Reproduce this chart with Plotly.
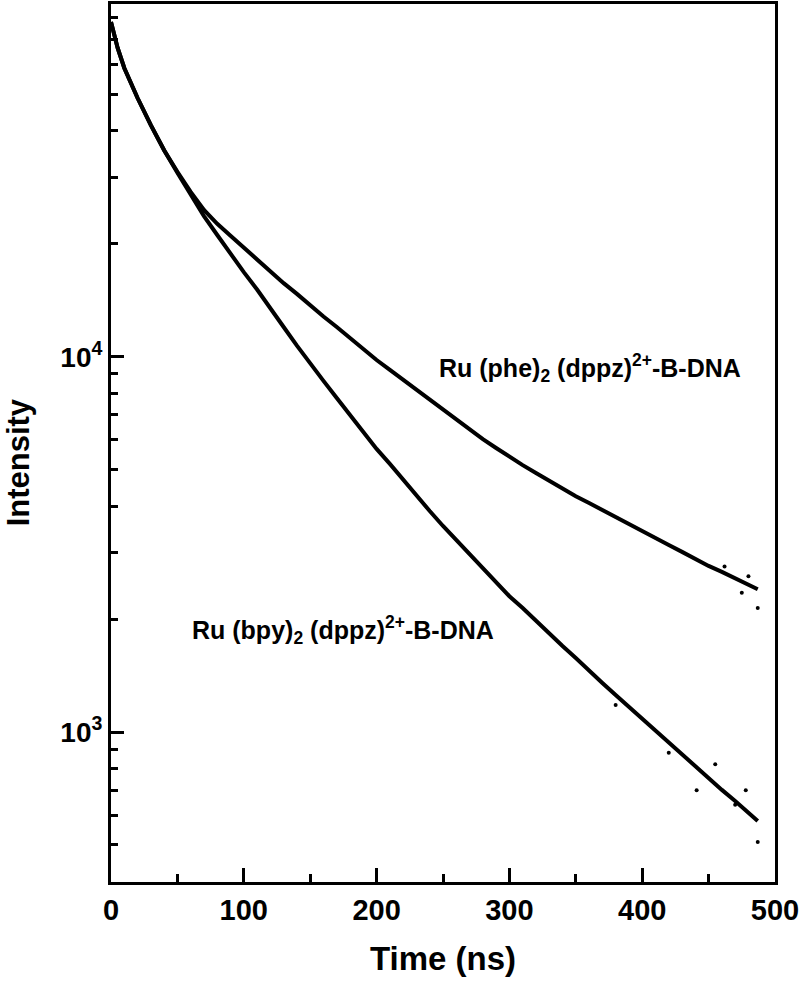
import plotly.graph_objects as go

# Time axis (ns)
time_ns = [0, 5, 10, 20, 30, 40, 50, 60, 70, 80, 90, 100, 110, 120, 130, 140, 150,
           160, 170, 180, 190, 200, 210, 220, 230, 240, 250, 260, 270, 280, 290,
           300, 310, 320, 330, 340, 350, 360, 370, 380, 390, 400, 410, 420, 430,
           440, 450, 460, 470, 480, 487]

# Ru(phe)2(dppz)2+ - B-DNA intensity
phe_intensity = [78000, 66500, 58800, 48900, 41400, 35500, 31100, 27500, 24600, 22600, 21000,
                 19500, 18200, 16900, 15700, 14700, 13700, 12800, 12000, 11200, 10500,
                 9800, 9220, 8670, 8150, 7670, 7210, 6780, 6380, 6030, 5710,
                 5400, 5140, 4900, 4670, 4440, 4250, 4075, 3900, 3740, 3580,
                 3430, 3290, 3150, 3020, 2890, 2770, 2670, 2570, 2480, 2400]

# Ru(bpy)2(dppz)2+ - B-DNA intensity
bpy_intensity = [78000, 66500, 58800, 48900, 41400, 35500, 30900, 27000, 23700, 21100, 18800,
                 16800, 15100, 13400, 12000, 10700, 9560, 8620, 7760, 7000, 6300,
                 5680, 5180, 4690, 4280, 3880, 3540, 3250, 2980, 2735, 2510,
                 2300, 2140, 1976, 1836, 1695, 1575, 1454, 1351, 1255, 1166,
                 1083, 1006, 935, 868, 812, 754, 701, 655, 608, 579]

# scattered stray points near the tails
phe_out_t = [462, 475, 480, 487]
phe_out_v = [2760, 2350, 2600, 2140]
bpy_out_t = [380, 420, 441, 455, 470, 478, 487]
bpy_out_v = [1180, 880, 700, 820, 640, 700, 509]

x_ticks = [0, 100, 200, 300, 400, 500]
y_ticks = [1000, 10000]
y_ticktext = ["10<sup>3</sup>", "10<sup>4</sup>"]
y_minor = [500, 600, 700, 800, 900, 2000, 3000, 4000, 5000, 6000, 7000, 8000, 9000,
           20000, 30000, 40000, 50000, 60000, 70000, 80000]
x_minor = [50, 150, 250, 350, 450]

label_phe = "Ru (phe)<sub>2</sub> (dppz)<sup>2+</sup>-B-DNA"
label_bpy = "Ru (bpy)<sub>2</sub> (dppz)<sup>2+</sup>-B-DNA"

FONT = "Liberation Sans, Arial, sans-serif"

fig = go.Figure()
for t, v in [(time_ns, phe_intensity), (time_ns, bpy_intensity)]:
    fig.add_trace(go.Scatter(x=t, y=v, mode="lines", line=dict(color="black", width=4),
                             showlegend=False))
for t, v in [(phe_out_t, phe_out_v), (bpy_out_t, bpy_out_v)]:
    fig.add_trace(go.Scatter(x=t, y=v, mode="markers", marker=dict(color="black", size=4),
                             showlegend=False))

fig.add_annotation(x=245.5, y=3.97, xref="x", yref="y", text=label_phe, showarrow=False,
                   xanchor="left", yanchor="middle",
                   font=dict(family=FONT, size=25, color="black", weight="bold"))
fig.add_annotation(x=59.5, y=3.272, xref="x", yref="y", text=label_bpy, showarrow=False,
                   xanchor="left", yanchor="middle",
                   font=dict(family=FONT, size=25, color="black", weight="bold"))
fig.add_annotation(x=0.5, y=-0.0866, xref="paper", yref="paper", text="Time (ns)",
                   showarrow=False, xanchor="center", yanchor="middle",
                   font=dict(family=FONT, size=33, color="black", weight="bold"))
fig.add_annotation(x=-0.14, y=0.478, xref="paper", yref="paper", text="Intensity",
                   showarrow=False, xanchor="center", yanchor="middle", textangle=-90,
                   font=dict(family=FONT, size=31, color="black", weight="bold"))

fig.update_layout(
    width=800, height=985,
    margin=dict(l=111, r=25, t=4, b=103),
    paper_bgcolor="white", plot_bgcolor="white",
    xaxis=dict(range=[0, 500], tickmode="array", tickvals=x_ticks,
               ticks="inside", ticklen=14, tickwidth=2.5, tickcolor="black",
               showline=True, linewidth=3, linecolor="black", mirror=True,
               showgrid=False, zeroline=False, automargin=False,
               ticklabeloverflow="allow",
               tickfont=dict(family=FONT, size=29, color="black", weight="bold"),
               minor=dict(tickvals=x_minor, ticks="inside", ticklen=8, tickwidth=2.5,
                          tickcolor="black", showgrid=False)),
    yaxis=dict(type="log", range=[2.6003, 4.9398], tickmode="array", tickvals=y_ticks,
               ticktext=y_ticktext,
               ticks="inside", ticklen=13, tickwidth=2.5, tickcolor="black",
               showline=True, linewidth=3, linecolor="black", mirror=True,
               showgrid=False, zeroline=False, automargin=False,
               tickfont=dict(family=FONT, size=28, color="black", weight="bold"),
               minor=dict(tickvals=y_minor, ticks="inside", ticklen=7, tickwidth=2.5,
                          tickcolor="black", showgrid=False)),
)

fig.write_html("out.html", config={"displayModeBar": False},
               post_script="document.body.style.margin='0';")
